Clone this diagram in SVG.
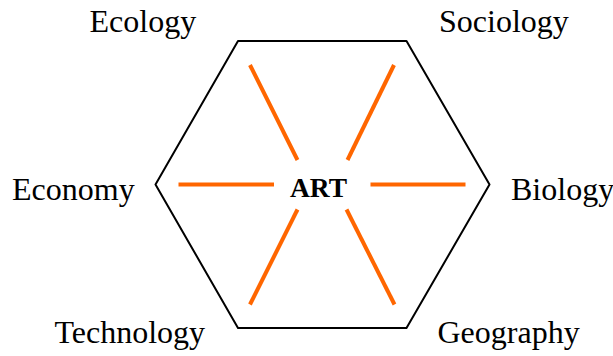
<svg xmlns="http://www.w3.org/2000/svg" width="613" height="356" viewBox="0 0 613 356">
<style>
.lbl{font-family:"Liberation Serif","Times New Roman",serif;font-size:32px;fill:#000}
.ctr{font-family:"Liberation Serif","Times New Roman",serif;font-size:27.5px;font-weight:bold;fill:#000}
.ray{stroke:#ff6600;stroke-width:4;fill:none}
.hex{stroke:#000;stroke-width:2;fill:none;stroke-linejoin:round}
</style>
<rect width="613" height="356" fill="#fff"/>
<g id="hexagon"><polygon class="hex" points="238,41 406.5,41 489.5,184.5 406.5,328 238,328 155.5,184.5"/></g>
<g id="connectors">
<line class="ray" x1="250" y1="65" x2="297.5" y2="160"/>
<line class="ray" x1="394" y1="65" x2="347.5" y2="160"/>
<line class="ray" x1="178.5" y1="184.5" x2="274" y2="184.5"/>
<line class="ray" x1="370.5" y1="184.5" x2="465.5" y2="184.5"/>
<line class="ray" x1="297.5" y1="209.5" x2="250" y2="304.5"/>
<line class="ray" x1="346.5" y1="209.5" x2="394.5" y2="304.5"/>
</g>
<g id="art"><text class="ctr" x="290" y="197">ART</text></g>
<g id="ecology"><text class="lbl" x="89.5" y="32">Ecology</text></g>
<g id="sociology"><text class="lbl" x="439" y="32">Sociology</text></g>
<g id="economy"><text class="lbl" x="12" y="200">Economy</text></g>
<g id="biology"><text class="lbl" x="511" y="200">Biology</text></g>
<g id="technology"><text class="lbl" x="54.5" y="343">Technology</text></g>
<g id="geography"><text class="lbl" x="437.5" y="343">Geography</text></g>
</svg>
